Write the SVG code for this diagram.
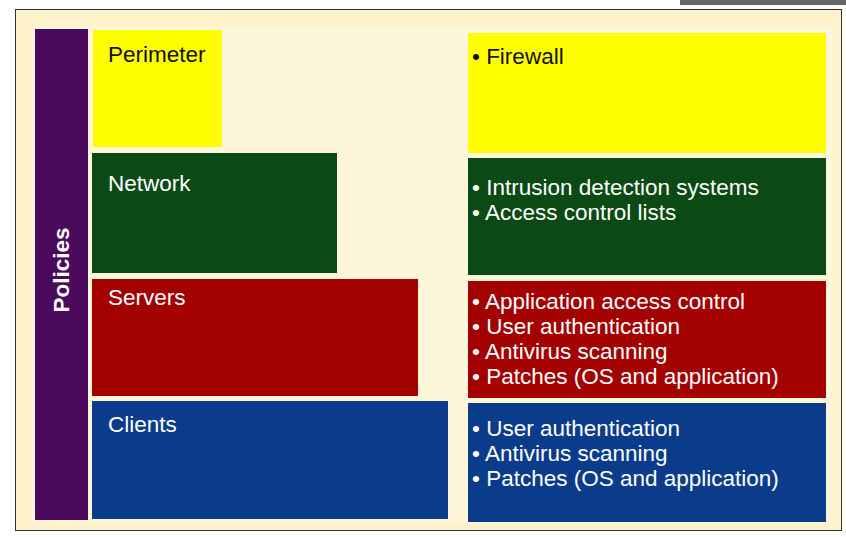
<svg xmlns="http://www.w3.org/2000/svg" width="846" height="537" viewBox="0 0 846 537">
<style>
.bg{fill:#fdf2c9}
.y{fill:#ffff00}.g{fill:#0b4a14}.r{fill:#a30000}.b{fill:#0b3c8c}.p{fill:#4b0a5c}
.t{font-family:"Liberation Sans",sans-serif;font-size:22.5px}
.w{fill:#ffffff}.k{fill:#111111}
</style>
<rect width="846" height="537" fill="#ffffff"/>
<rect x="680" y="0" width="166" height="5" fill="#666666"/>
<rect class="bg" x="15.5" y="9.5" width="826" height="521" stroke="#333" stroke-width="1"/>
<rect x="32" y="26" width="800" height="498" fill="#fef6d8"/>
<g id="policies"><rect class="p" x="35" y="29" width="53" height="491"/>
<text class="t w" font-weight="bold" font-size="21" transform="translate(69,270) rotate(-90)" text-anchor="middle">Policies</text></g>
<g id="perimeter"><rect class="y" x="93" y="30" width="129" height="117"/><text class="t k" x="108" y="62">Perimeter</text></g>
<g id="network"><rect class="g" x="92" y="153" width="245" height="120"/><text class="t w" x="108" y="191">Network</text></g>
<g id="servers"><rect class="r" x="92" y="279" width="326" height="117"/><text class="t w" x="108" y="305">Servers</text></g>
<g id="clients"><rect class="b" x="92" y="401" width="356" height="118"/><text class="t w" x="108" y="432">Clients</text></g>
<g id="perimeter-items"><rect class="y" x="468" y="33" width="358" height="120"/><text class="t k" x="472" y="64">• Firewall</text></g>
<g id="network-items"><rect class="g" x="468" y="158" width="358" height="117"/>
<text class="t w" x="472" y="195">• Intrusion detection systems</text>
<text class="t w" x="472" y="220">• Access control lists</text></g>
<g id="servers-items"><rect class="r" x="468" y="281" width="358" height="117"/>
<text class="t w" x="472" y="309">• Application access control</text>
<text class="t w" x="472" y="334">• User authentication</text>
<text class="t w" x="472" y="359">• Antivirus scanning</text>
<text class="t w" x="472" y="384">• Patches (OS and application)</text></g>
<g id="clients-items"><rect class="b" x="468" y="403" width="358" height="119"/>
<text class="t w" x="472" y="436">• User authentication</text>
<text class="t w" x="472" y="461">• Antivirus scanning</text>
<text class="t w" x="472" y="486">• Patches (OS and application)</text></g>
<g id="connectors"></g>
</svg>
